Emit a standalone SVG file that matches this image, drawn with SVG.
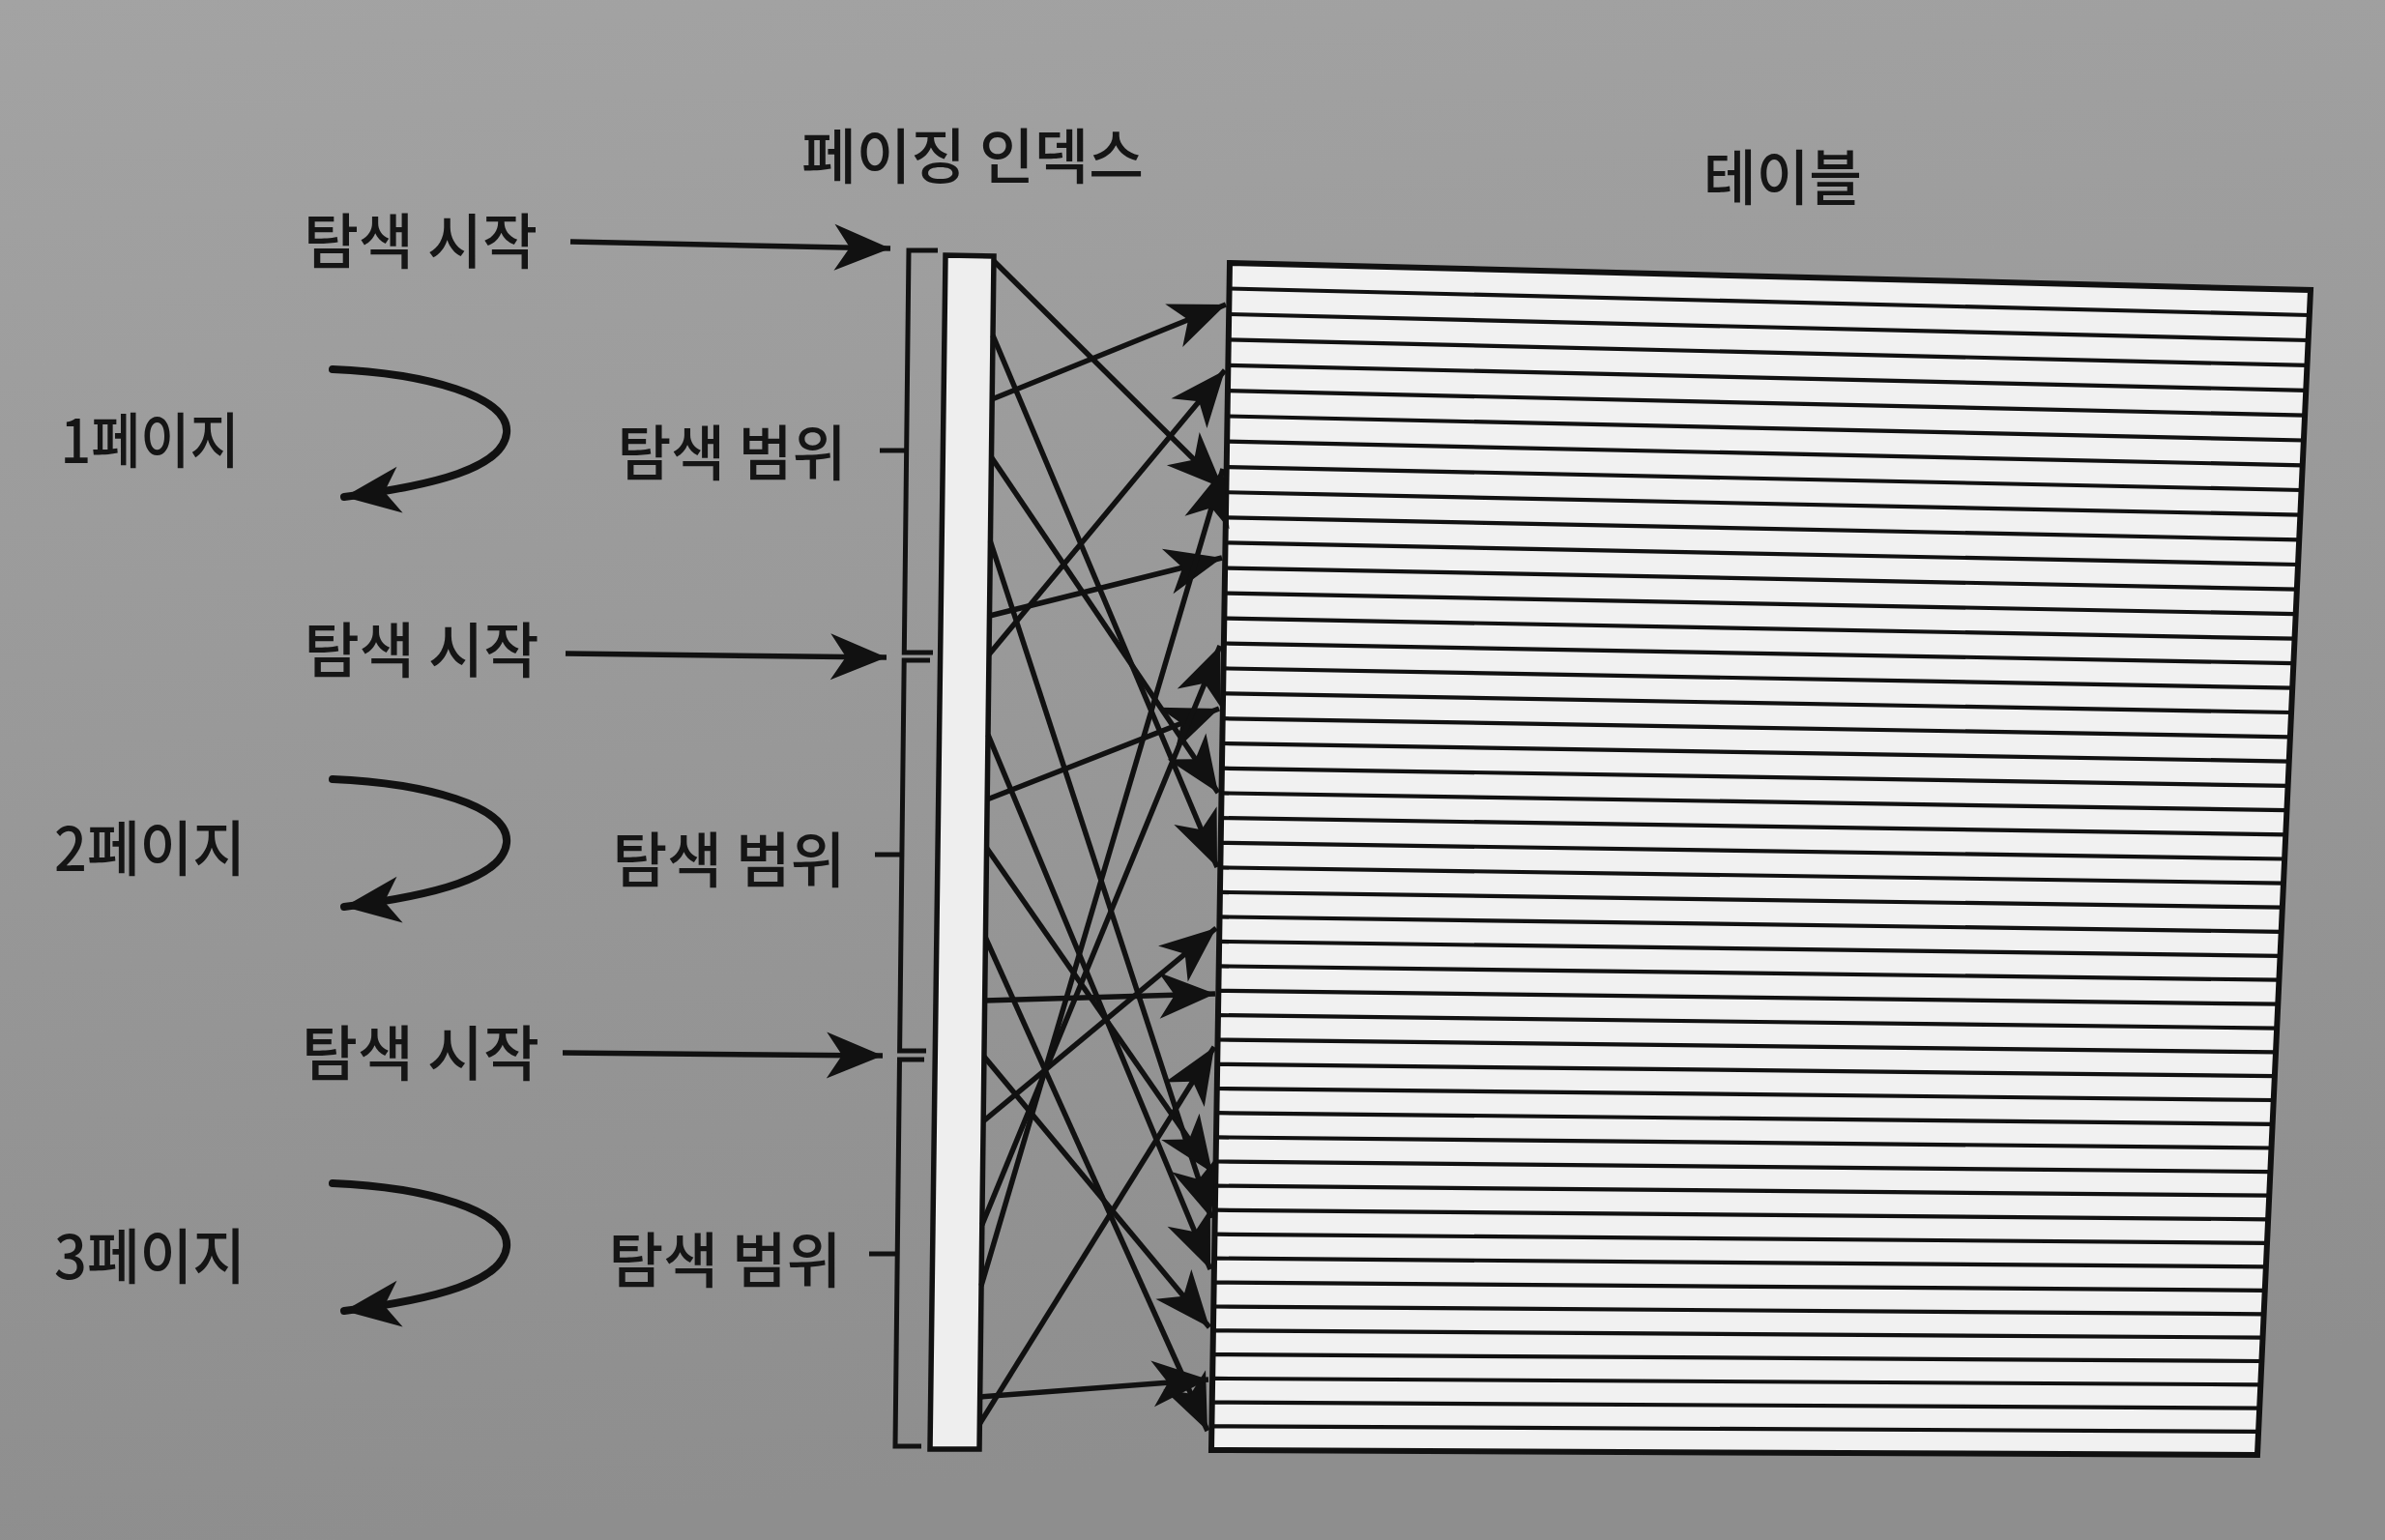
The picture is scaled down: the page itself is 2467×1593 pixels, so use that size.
<svg xmlns="http://www.w3.org/2000/svg" width="2467" height="1593" viewBox="0 0 2467 1593">
<defs>
<linearGradient id="bg" x1="0" y1="0" x2="0.15" y2="1">
<stop offset="0" stop-color="#a3a3a3"/>
<stop offset="1" stop-color="#8e8e8e"/>
</linearGradient>
<marker id="ah" viewBox="-62 -28 64 56" refX="0" refY="0" markerWidth="64" markerHeight="56" markerUnits="userSpaceOnUse" orient="auto">
<path d="M0,0 L-58,-24 L-42,0 L-58,24 Z" fill="#111"/>
</marker>
<path id="curl" d="M344 382 C440 386, 528 410, 524 448 C520 484, 450 502, 356 514"/>
</defs>
<style>
text{font-family:"Noto Sans CJK KR","Noto Sans",sans-serif;font-weight:500;fill:#151515;font-size:62px;text-anchor:middle;dominant-baseline:central}
.arr{stroke:#111;stroke-width:5.5;fill:none;marker-end:url(#ah)}
.curl{stroke:#111;stroke-width:8;fill:none;stroke-linecap:round;marker-end:url(#ah)}
.br{stroke:#111;stroke-width:5;fill:none}
.rows{stroke:#111;stroke-width:4.2;fill:none}
</style>
<rect width="2467" height="1593" fill="url(#bg)"/>

<g id="title-index"><text x="1006" y="158" textLength="354" lengthAdjust="spacingAndGlyphs">페이징 인덱스</text></g>
<g id="title-table"><text x="1844" y="180" textLength="164" lengthAdjust="spacingAndGlyphs">테이블</text></g>

<g id="page-1">
<text x="155" y="452" textLength="185" lengthAdjust="spacingAndGlyphs">1페이지</text>
<use href="#curl" class="curl"/>
</g>
<g id="page-2">
<text x="155" y="874" textLength="198" lengthAdjust="spacingAndGlyphs">2페이지</text>
<use href="#curl" class="curl" transform="translate(0,424)"/>
</g>
<g id="page-3">
<text x="155" y="1296" textLength="198" lengthAdjust="spacingAndGlyphs">3페이지</text>
<use href="#curl" class="curl" transform="translate(0,842)"/>
</g>

<g id="start-1">
<text x="435" y="246" textLength="242" lengthAdjust="spacingAndGlyphs">탐색 시작</text>
<line class="arr" x1="590" y1="250" x2="921" y2="257"/>
</g>
<g id="start-2">
<text x="436" y="669" textLength="243" lengthAdjust="spacingAndGlyphs">탐색 시작</text>
<line class="arr" x1="585" y1="676" x2="917" y2="680"/>
</g>
<g id="start-3">
<text x="435" y="1086" textLength="246" lengthAdjust="spacingAndGlyphs">탐색 시작</text>
<line class="arr" x1="582" y1="1089" x2="913" y2="1092"/>
</g>

<g id="range-1">
<text x="757" y="465" textLength="237" lengthAdjust="spacingAndGlyphs">탐색 범위</text>
<line class="br" x1="910" y1="466" x2="938" y2="466"/>
</g>
<g id="range-2">
<text x="754" y="886" textLength="241" lengthAdjust="spacingAndGlyphs">탐색 범위</text>
<line class="br" x1="905" y1="884" x2="933" y2="884"/>
</g>
<g id="range-3">
<text x="750" y="1300" textLength="241" lengthAdjust="spacingAndGlyphs">탐색 범위</text>
<line class="br" x1="899" y1="1297" x2="928" y2="1297"/>
</g>

<g id="page-brackets">
<path class="br" d="M970 259 L940 259 L935.3 675 L965 675"/>
<path class="br" d="M962 683 L935.2 683 L930.6 1087 L958 1087"/>
<path class="br" d="M956 1096 L930.5 1096 L926 1496 L953 1496"/>
</g>

<g id="paging-index">
<polygon points="978,264 1028,265 1013,1499 962,1499" fill="#eeeeee" stroke="#111" stroke-width="5.5"/>
</g>

<g id="table">
<polygon points="1272,272 2390,300 2335,1505 1253,1500" fill="#f1f1f1" stroke="#111" stroke-width="6"/>
<path class="rows" d="M1271.6 298.5L2388.8 326.0M1271.2 325.0L2387.6 352.0M1270.8 351.4L2386.4 377.9M1270.4 377.8L2385.3 403.8M1270.0 404.2L2384.1 429.7M1269.5 430.5L2382.9 455.5M1269.1 456.7L2381.7 481.3M1268.7 483.0L2380.6 507.0M1268.3 509.2L2379.4 532.7M1267.9 535.3L2378.2 558.4M1267.5 561.4L2377.0 584.0M1267.1 587.5L2375.9 609.6M1266.7 613.6L2374.7 635.2M1266.3 639.6L2373.5 660.7M1265.9 665.5L2372.4 686.1M1265.5 691.4L2371.2 711.6M1265.1 717.3L2370.1 737.0M1264.7 743.2L2368.9 762.3M1264.3 769.0L2367.7 787.6M1263.9 794.7L2366.6 812.9M1263.5 820.4L2365.4 838.2M1263.1 846.1L2364.3 863.4M1262.7 871.8L2363.1 888.5M1262.3 897.4L2362.0 913.6M1261.9 922.9L2360.8 938.7M1261.5 948.4L2359.7 963.8M1261.1 973.9L2358.6 988.8M1260.7 999.4L2357.4 1013.7M1260.4 1024.8L2356.3 1038.7M1260.0 1050.1L2355.1 1063.6M1259.6 1075.5L2354.0 1088.4M1259.2 1100.8L2352.9 1113.2M1258.8 1126.0L2351.7 1138.0M1258.4 1151.2L2350.6 1162.8M1258.0 1176.4L2349.5 1187.5M1257.6 1201.5L2348.4 1212.1M1257.2 1226.6L2347.2 1236.7M1256.8 1251.7L2346.1 1261.3M1256.5 1276.7L2345.0 1285.9M1256.1 1301.6L2343.9 1310.4M1255.7 1326.6L2342.8 1334.8M1255.3 1351.5L2341.7 1359.3M1254.9 1376.3L2340.5 1383.6M1254.5 1401.1L2339.4 1408.0M1254.1 1425.9L2338.3 1432.3M1253.8 1450.6L2337.2 1456.6M1253.4 1475.3L2336.1 1480.8"/>
</g>

<g id="connectors">
<line class="arr" x1="1028" y1="270" x2="1265" y2="505"/>
<line class="arr" x1="1027" y1="347" x2="1259" y2="897"/>
<line class="arr" x1="1026" y1="413" x2="1268" y2="315"/>
<line class="arr" x1="1025.5" y1="473" x2="1260" y2="820"/>
<line class="arr" x1="1024.4" y1="560" x2="1253" y2="1260"/>
<line class="arr" x1="1023.5" y1="637" x2="1264" y2="577"/>
<line class="arr" x1="1023" y1="677" x2="1267" y2="383"/>
<line class="arr" x1="1022" y1="760" x2="1252" y2="1313"/>
<line class="arr" x1="1021" y1="827" x2="1261" y2="733"/>
<line class="arr" x1="1020.5" y1="877" x2="1254" y2="1213"/>
<line class="arr" x1="1019.4" y1="970" x2="1249" y2="1480"/>
<line class="arr" x1="1018.6" y1="1035" x2="1257" y2="1028"/>
<line class="arr" x1="1018" y1="1093" x2="1251" y2="1373"/>
<line class="arr" x1="1017" y1="1160" x2="1258" y2="960"/>
<line class="arr" x1="1015.8" y1="1267" x2="1262" y2="668"/>
<line class="arr" x1="1015" y1="1330" x2="1265" y2="485"/>
<line class="arr" x1="1013.7" y1="1445" x2="1250" y2="1427"/>
<line class="arr" x1="1013.3" y1="1473" x2="1256" y2="1083"/>
</g>
</svg>
